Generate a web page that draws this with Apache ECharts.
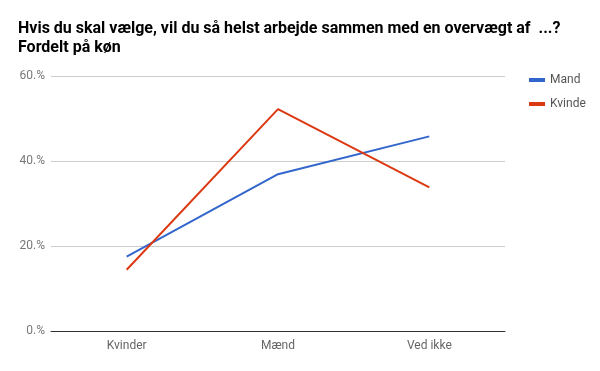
<!DOCTYPE html>
<html><head><meta charset="utf-8">
<script src="https://cdn.jsdelivr.net/npm/echarts@6/dist/echarts.min.js"></script>
<style>html,body{margin:0;padding:0;background:#fff}#c{width:600px;height:371px}</style>
</head><body><div id="c"></div>
<script>
const categories = ["Kvinder", "Mænd", "Ved ikke"];
const mand = [17.5, 36.9, 45.8];
const kvinde = [14.4, 52.2, 33.8];
const yTicks = [0, 20, 40, 60];
const titleText = "Hvis du skal vælge, vil du så helst arbejde sammen med en overvægt af  ...?\nFordelt på køn";

const chart = echarts.init(document.getElementById('c'), null, {renderer: 'canvas'});
chart.setOption({
  animation: false,
  title: {
    text: titleText, left: 18, top: 19, padding: 0,
    textStyle: {fontFamily: 'Roboto', fontWeight: 'bold', fontSize: 16, color: '#000', lineHeight: 19}
  },
  legend: {
    orient: 'vertical', left: 524, top: 69, itemGap: 12,
    itemWidth: 16, itemHeight: 4, icon: 'rect',
    textStyle: {fontFamily: 'Roboto', fontSize: 12, color: '#555'},
    data: ['Mand', 'Kvinde']
  },
  grid: {left: 51, right: 95, top: 76, bottom: 40, containLabel: false},
  xAxis: {
    type: 'category', data: categories, boundaryGap: true,
    axisLine: {lineStyle: {color: '#333', width: 1}},
    axisTick: {show: false},
    axisLabel: {fontFamily: 'Roboto', fontSize: 12, color: '#666', margin: 9}
  },
  yAxis: {
    type: 'value', min: yTicks[0], max: yTicks[yTicks.length - 1], interval: 20,
    axisLine: {show: false}, axisTick: {show: false},
    axisLabel: {fontFamily: 'Roboto', fontSize: 12, color: '#777', margin: 6, formatter: v => v + '.%'},
    splitLine: {lineStyle: {color: '#ccc', width: 1}}
  },
  series: [
    {name: 'Mand', type: 'line', data: mand, symbol: 'none', lineStyle: {color: '#3366cc', width: 2}, itemStyle: {color: '#3366cc'}},
    {name: 'Kvinde', type: 'line', data: kvinde, symbol: 'none', lineStyle: {color: '#dc3912', width: 2}, itemStyle: {color: '#dc3912'}}
  ]
});
</script></body></html>
